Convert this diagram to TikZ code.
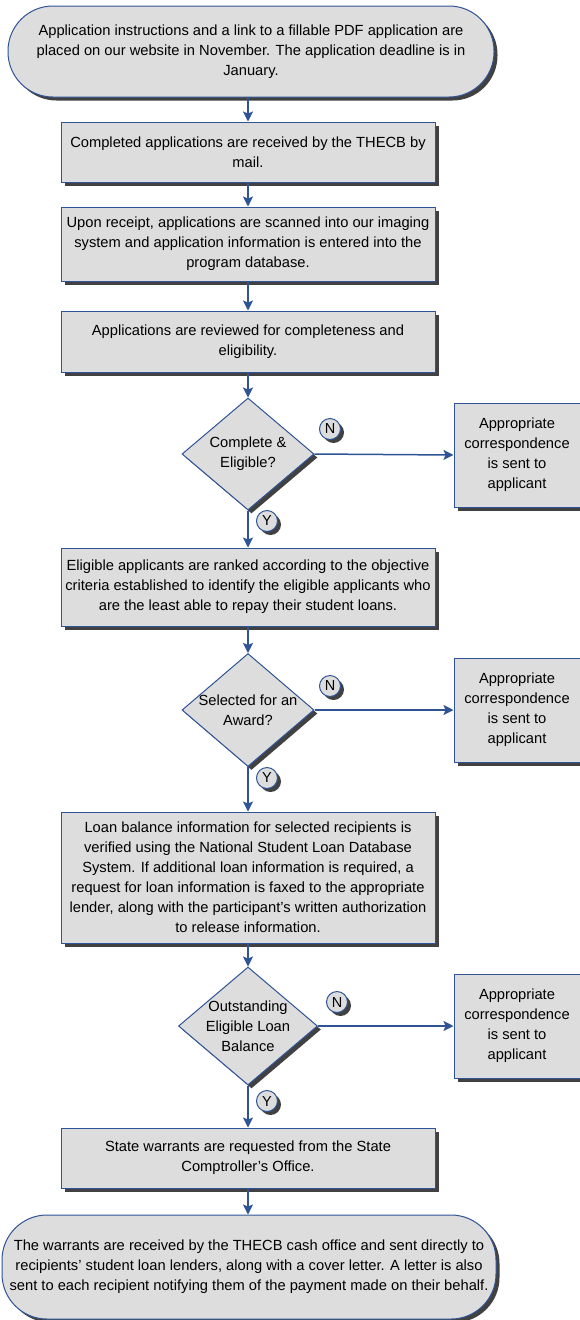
\documentclass[tikz,border=0pt]{standalone}
\usepackage{fontspec}
\setmainfont{Liberation Sans}
\usetikzlibrary{shapes.geometric,shadows,arrows.meta}
\definecolor{bord}{RGB}{47,84,150}
\definecolor{boxfill}{RGB}{221,221,221}
\definecolor{shad}{RGB}{65,65,65}
\begin{document}
\begin{tikzpicture}[x=1pt,y=-1pt,
  txt/.style={font=\fontsize{14.7}{20}\selectfont, align=center},
  shd/.style={drop shadow={shadow xshift=3.5pt,shadow yshift=-3.5pt,opacity=1,fill=shad}},
  procbox/.style={draw=bord, line width=1pt, fill=boxfill, shd, rectangle, inner sep=0pt, txt},
  term/.style={procbox, rounded corners=45pt},
  dec/.style={draw=bord, line width=1pt, fill=boxfill, shd, diamond, inner sep=0pt},
  circ/.style={circle, draw=bord, line width=1pt, fill=boxfill, shd, minimum size=21pt, inner sep=0pt, font=\fontsize{14.5}{16}\selectfont},
  arr/.style={draw=bord, line width=1.5pt, -{Stealth[length=10pt,width=10pt,inset=2pt]}},
]
\useasboundingbox (0,0) rectangle (579,1320);

\node[term, minimum width=486pt, minimum height=91pt] (t1) at (251,51.5)
 {Application instructions and a link to a fillable PDF application are\\placed on our website in November. The application deadline is in\\January.};

\node[procbox, minimum width=374pt, minimum height=60pt] (b2) at (248,152)
 {Completed applications are received by the THECB by\\mail.};

\node[procbox, minimum width=374pt, minimum height=74pt] (b3) at (248,244)
 {Upon receipt, applications are scanned into our imaging\\system and application information is entered into the\\program database.};

\node[procbox, minimum width=374pt, minimum height=61pt] (b4) at (248,341.5)
 {Applications are reviewed for completeness and\\eligibility.};

\node[dec, minimum width=132pt, minimum height=112pt,
  label={[txt]center:Complete \&\\Eligible?}] (d1) at (248,454) {};
\node[procbox, minimum width=126pt, minimum height=104pt] (r1) at (517,455)
 {Appropriate\\correspondence\\is sent to\\applicant};
\node[circ] (n1) at (330,429) {N};
\node[circ] (y1) at (267,521) {Y};

\node[procbox, minimum width=374pt, minimum height=78pt] (b5) at (248,587)
 {Eligible applicants are ranked according to the objective\\criteria established to identify the eligible applicants who\\are the least able to repay their student loans.};

\node[dec, minimum width=132pt, minimum height=113pt,
  label={[txt]center:Selected for an\\Award?}] (d2) at (248,710) {};
\node[procbox, minimum width=126pt, minimum height=104pt] (r2) at (517,710)
 {Appropriate\\correspondence\\is sent to\\applicant};
\node[circ] (n2) at (330,686) {N};
\node[circ] (y2) at (267,778) {Y};

\node[procbox, minimum width=374pt, minimum height=131pt] (b6) at (248,877.5)
 {Loan balance information for selected recipients is\\verified using the National Student Loan Database\\System. If additional loan information is required, a\\request for loan information is faxed to the appropriate\\lender, along with the participant’s written authorization\\to release information.};

\node[dec, minimum width=139pt, minimum height=118pt,
  label={[txt]center:Outstanding\\Eligible Loan\\Balance}] (d3) at (248,1026) {};
\node[procbox, minimum width=126pt, minimum height=104pt] (r3) at (517,1026)
 {Appropriate\\correspondence\\is sent to\\applicant};
\node[circ] (n3) at (337,1002) {N};
\node[circ] (y3) at (267,1101) {Y};

\node[procbox, minimum width=374pt, minimum height=60pt] (b7) at (248,1158)
 {State warrants are requested from the State\\Comptroller’s Office.};

\node[term, minimum width=494pt, minimum height=104pt] (t2) at (249,1267)
 {The warrants are received by the THECB cash office and sent directly to\\recipients’ student loan lenders, along with a cover letter. A letter is also\\sent to each recipient notifying them of the payment made on their behalf.};

\draw[arr] (t1.south -| b2.north) -- (b2.north);
\draw[arr] (b2) -- (b3);
\draw[arr] (b3) -- (b4);
\draw[arr] (b4) -- (d1);
\draw[arr] (d1.east) -- (r1.west);
\draw[arr] (d1) -- (b5);
\draw[arr] (b5) -- (d2);
\draw[arr] (d2.east) -- (r2.west);
\draw[arr] (d2) -- (b6);
\draw[arr] (b6) -- (d3);
\draw[arr] (d3.east) -- (r3.west);
\draw[arr] (d3) -- (b7);
\draw[arr] (b7.south) -- (t2.north -| b7.south);
\end{tikzpicture}
\end{document}
